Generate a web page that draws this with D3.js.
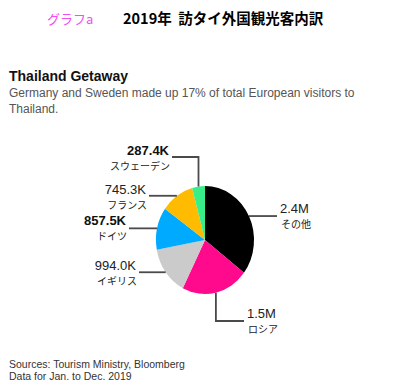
<!DOCTYPE html>
<html><head><meta charset="utf-8">
<script src="https://cdn.jsdelivr.net/npm/d3@7"></script>
<style>body{margin:0;background:#fff}svg{display:block}text{white-space:pre}</style>
</head><body>
<svg id="c" width="398" height="391"></svg>
<script>
const categories = ["その他", "ロシア", "イギリス", "ドイツ", "フランス", "スウェーデン"];
const values = [2400000, 1500000, 994000, 857500, 745300, 287400];
const valueLabels = ["2.4M", "1.5M", "994.0K", "857.5K", "745.3K", "287.4K"];
const colors = ["#000000", "#ff0a8c", "#cbcbcb", "#00aaff", "#ffbb00", "#38ee88"];

const svg = d3.select("#c");
const jp = "'Noto Sans CJK JP', sans-serif";
const en = "'Liberation Sans', Arial, sans-serif";

svg.append("text").attr("x", 47).attr("y", 24).attr("font-family", jp).attr("font-size", 13)
  .attr("fill", "#ee4fee").text("グラフa");
svg.append("text").attr("x", 123).attr("y", 24).attr("font-family", jp).attr("font-size", 14.5)
  .attr("font-weight", "bold").attr("fill", "#000").text("2019年  訪タイ外国観光客内訳");

svg.append("text").attr("x", 9).attr("y", 81).attr("font-family", en).attr("font-size", 14)
  .attr("font-weight", "bold").attr("fill", "#111").text("Thailand Getaway");
svg.append("text").attr("x", 9).attr("y", 97).attr("font-family", en).attr("font-size", 12)
  .attr("fill", "#555").text("Germany and Sweden made up 17% of total European visitors to");
svg.append("text").attr("x", 9).attr("y", 113).attr("font-family", en).attr("font-size", 12)
  .attr("fill", "#555").text("Thailand.");

svg.append("text").attr("x", 9).attr("y", 368).attr("font-family", en).attr("font-size", 10.5)
  .attr("fill", "#333").text("Sources: Tourism Ministry, Bloomberg");
svg.append("text").attr("x", 9).attr("y", 380).attr("font-family", en).attr("font-size", 10.5)
  .attr("fill", "#333").text("Data for Jan. to Dec. 2019");

// pie
const cx = 205, cy = 240, rx = 49, ry = 54;
const pie = d3.pie().sort(null).value(d => d)(values);
const arc = d3.arc().innerRadius(0).outerRadius(ry);
const g = svg.append("g").attr("transform", `translate(${cx},${cy}) scale(${rx / ry},1)`);
g.selectAll("path").data(pie).join("path").attr("d", arc).attr("fill", (d, i) => colors[i]);

// label layout: side, text x, value baseline y, optional elbow y
const layout = [
  {side: "r", x: 280, y: 213},
  {side: "r", x: 247, y: 318, elbow: 321},
  {side: "l", x: 136, y: 270},
  {side: "l", x: 126, y: 225},
  {side: "l", x: 146, y: 194},
  {side: "l", x: 169, y: 155, elbow: 157}
];
const bold = [false, false, false, true, false, true];

pie.forEach((d, i) => {
  const a = (d.startAngle + d.endAngle) / 2;
  const ex = cx + rx * Math.sin(a), ey = cy - ry * Math.cos(a);
  const L = layout[i];
  let pts;
  const gap = 3;
  const lx = L.side === "r" ? L.x - gap : L.x + gap;
  if (L.elbow !== undefined) {
    pts = [[ex, ey], [ex, L.elbow], [lx, L.elbow]];
  } else {
    pts = [[ex, ey], [lx, ey]];
  }
  svg.append("path").attr("d", d3.line()(pts)).attr("fill", "none")
    .attr("stroke", "#4a4a4a").attr("stroke-width", 1.8);
  const anchor = L.side === "r" ? "start" : "end";
  svg.append("text").attr("x", L.x).attr("y", L.y).attr("text-anchor", anchor)
    .attr("font-family", en).attr("font-size", 13).attr("font-weight", bold[i] ? "bold" : "normal")
    .attr("fill", bold[i] ? "#111" : "#222").text(valueLabels[i]);
  svg.append("text").attr("x", L.x + 1).attr("y", L.y + 15).attr("text-anchor", anchor)
    .attr("font-family", jp).attr("font-size", 10).attr("fill", "#222").text(categories[i]);
});
</script>
</body></html>
